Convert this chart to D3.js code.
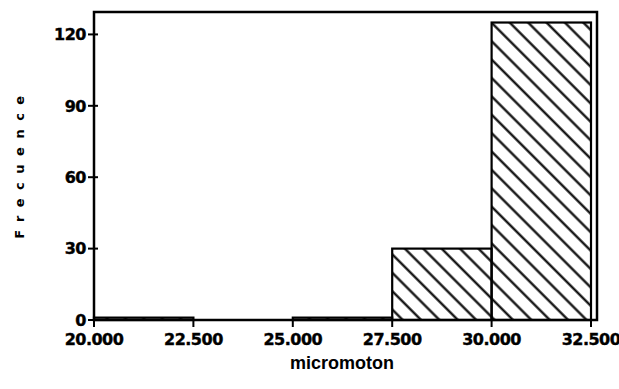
<!DOCTYPE html>
<html><head><meta charset="utf-8">
<script src="https://cdn.jsdelivr.net/npm/d3@7"></script>
<style>body{margin:0;background:#fff}svg{display:block}</style>
</head><body>
<svg id="c" width="619" height="389"></svg>
<script>
const binStarts = [20, 22.5, 25, 27.5, 30];
const binEnds = [22.5, 25, 27.5, 30, 32.5];
const counts = [1, 0, 1, 30, 125];
const xTicks = [20, 22.5, 25, 27.5, 30, 32.5];
const yTicks = [0, 30, 60, 90, 120];
const xLabel = "micromoton";
const yLabel = "Frecuence";

const svg = d3.select("#c");
const x = d3.scaleLinear().domain([20, 32.5]).range([94, 591]);
const y = d3.scaleLinear().domain([0, 129]).range([320, 13]);

const defs = svg.append("defs");
const pat = defs.append("pattern").attr("id","hatch").attr("patternUnits","userSpaceOnUse")
  .attr("width",13).attr("height",13).attr("patternTransform","rotate(45)");
pat.append("line").attr("x1",0).attr("y1",6.5).attr("x2",13).attr("y2",6.5)
  .attr("stroke","#000").attr("stroke-width",2.2);

const bins = binStarts.map((s,i)=>({s, e: binEnds[i], c: counts[i]})).filter(d=>d.c>0);
svg.selectAll("rect.bar").data(bins).join("rect").attr("class","bar")
  .attr("x", d=>x(d.s)).attr("width", d=>x(d.e)-x(d.s))
  .attr("y", d=>y(d.c)).attr("height", d=>y(0)-y(d.c))
  .attr("fill","url(#hatch)").attr("stroke","#000").attr("stroke-width",2.2);

// frame
svg.append("rect").attr("x",x(20)).attr("y",12).attr("width",597-x(20)).attr("height",320-12)
  .attr("fill","none").attr("stroke","#000").attr("stroke-width",2.5);

const tickFont = "'DejaVu Sans', sans-serif";
// y ticks
const ya = svg.append("g");
ya.selectAll("line").data(yTicks).join("line")
  .attr("x1",x(20)-6).attr("x2",x(20)+4).attr("y1",d=>y(d)).attr("y2",d=>y(d))
  .attr("stroke","#000").attr("stroke-width",2);
ya.selectAll("text").data(yTicks).join("text")
  .attr("x",x(20)-8).attr("y",d=>y(d)).attr("dy","0.36em").attr("text-anchor","end")
  .attr("font-family",tickFont).attr("font-weight","bold").attr("font-size",16).attr("letter-spacing",-0.5)
  .attr("stroke","#000").attr("stroke-width",0.4)
  .text(d=>d);
// x ticks
const xa = svg.append("g");
xa.selectAll("line").data(xTicks).join("line")
  .attr("x1",d=>x(d)).attr("x2",d=>x(d)).attr("y1",320).attr("y2",327)
  .attr("stroke","#000").attr("stroke-width",2);
xa.selectAll("text").data(xTicks).join("text")
  .attr("x",d=>x(d)).attr("y",345).attr("text-anchor","middle")
  .attr("font-family",tickFont).attr("font-weight","bold").attr("font-size",16).attr("letter-spacing",-0.5)
  .attr("stroke","#000").attr("stroke-width",0.4)
  .text(d=>d3.format(".3f")(d));

svg.append("text").attr("x",342).attr("y",369).attr("text-anchor","middle")
  .attr("font-family","'Liberation Sans', Arial, sans-serif").attr("font-weight","bold").attr("font-size",18)
  .text(xLabel);
svg.append("text").attr("transform","translate(24,163) rotate(-90)").attr("text-anchor","middle")
  .attr("font-family",tickFont).attr("font-weight","bold").attr("font-size",13).attr("letter-spacing",8.5)
  .text(yLabel);
</script>
</body></html>
